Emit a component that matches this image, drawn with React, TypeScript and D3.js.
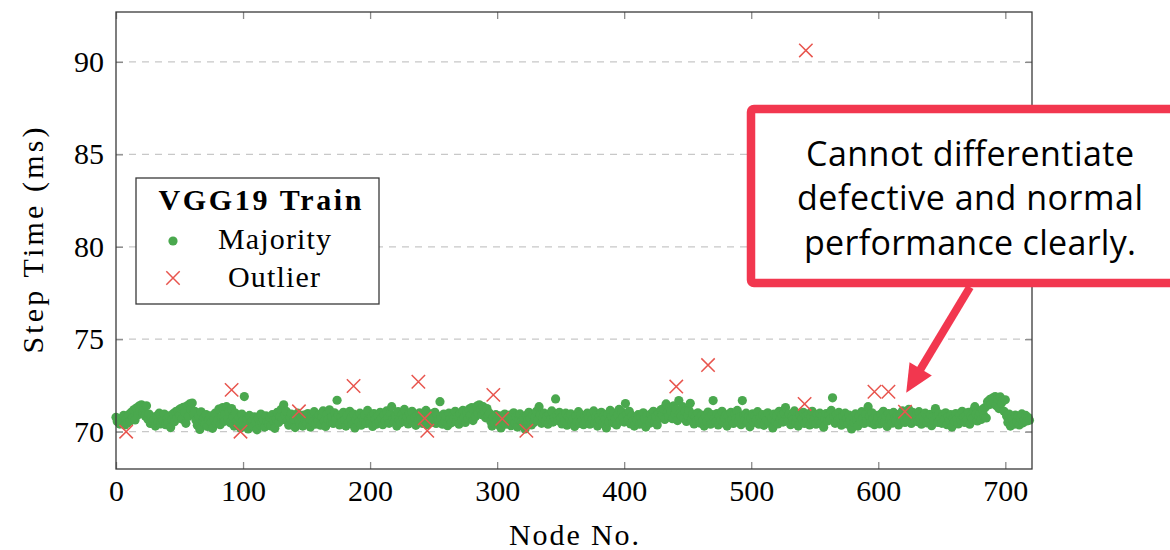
import React, { useEffect, useRef } from 'react';
import * as d3 from 'd3';

// step times (ms) of the majority nodes, 90 nodes per block
const blockA = [
  70.78, 70.55, 70.62, 70.41, 70.70, 70.52, 70.88, 70.36, 70.65, 70.47,
  70.92, 70.58, 71.05, 70.74, 71.18, 70.63, 71.28, 70.90, 71.38, 71.12,
  71.45, 71.02, 71.30, 70.85, 71.40, 70.68, 70.95, 70.44, 70.80, 70.57,
  70.66, 70.30, 70.84, 70.51, 71.00, 70.42, 70.73, 70.60, 70.95, 70.38,
  70.70, 70.49, 70.86, 70.22, 70.64, 70.97, 70.53, 71.08, 70.75, 71.15,
  70.90, 71.25, 70.68, 71.32, 71.05, 70.45, 71.40, 70.82, 71.50, 71.20,
  71.55, 70.98, 71.10, 70.62, 70.35, 70.80, 70.12, 71.07, 70.55, 70.74,
  70.40, 70.92, 70.28, 70.66, 70.85, 70.51, 70.18, 70.70, 71.00, 70.46,
  70.62, 71.22, 70.38, 70.78, 71.30, 70.55, 70.95, 71.35, 70.70, 71.10,
];
const blockB = [
  70.48, 71.25, 70.82, 70.30, 71.00, 70.58, 70.40, 70.75, 70.20, 70.95,
  70.62, 71.90, 70.35, 70.70, 70.15, 70.88, 70.45, 70.60, 70.28, 70.80,
  70.52, 70.10, 70.72, 70.38, 70.95, 70.48, 70.65, 70.25, 70.85, 70.55,
  70.42, 70.78, 70.30, 70.92, 70.60, 70.18, 70.70, 71.05, 70.50, 70.82,
  71.20, 70.65, 71.45, 70.90, 71.10, 70.58, 70.35, 70.75, 70.95, 70.48,
  70.68, 70.22, 70.85, 71.00, 70.55, 70.40, 70.78, 70.30, 70.90, 70.62,
  70.45, 70.98, 70.70, 70.25, 70.86, 70.52, 71.08, 70.40, 70.74, 70.60,
  70.92, 70.35, 70.80, 71.12, 70.58, 70.28, 70.95, 70.66, 71.18, 70.50,
  70.82, 70.44, 71.02, 70.68, 71.70, 70.90, 70.36, 70.78, 70.55, 71.05,
];
const blockC = [
  70.62, 70.30, 70.88, 70.48, 71.10, 70.72, 70.40, 70.95, 70.20, 70.66,
  70.85, 70.52, 71.00, 70.35, 70.76, 70.60, 70.92, 70.44, 71.15, 70.70,
  70.50, 70.82, 70.28, 70.98, 70.64, 70.40, 70.86, 70.55, 71.05, 70.72,
  70.38, 70.90, 70.58, 71.12, 70.75, 70.45, 70.95, 71.35, 70.68, 70.52,
  70.85, 70.30, 71.08, 70.62, 70.48, 70.92, 70.70, 71.20, 70.56, 70.80,
  70.42, 70.98, 70.66, 71.10, 70.50, 70.78, 70.34, 70.88, 70.60, 71.02,
  70.72, 70.45, 70.90, 70.58, 71.15, 70.38, 70.80, 70.64, 70.96, 70.52,
  70.70, 71.05, 70.44, 70.86, 70.62, 71.62, 70.78, 70.40, 70.95, 70.56,
  70.82, 70.32, 71.00, 70.68, 70.48, 70.90, 70.74, 71.10, 70.54, 70.85,
];
const blockD = [
  70.40, 70.95, 70.62, 71.15, 70.78, 70.50, 71.05, 70.70, 71.22, 70.88,
  71.30, 70.60, 71.12, 70.82, 71.38, 70.98, 71.45, 71.20, 70.92, 71.35,
  71.08, 70.75, 71.25, 70.85, 71.00, 70.55, 70.30, 70.78, 70.45, 70.92,
  70.62, 70.38, 70.85, 70.20, 70.70, 70.52, 70.95, 70.40, 70.76, 70.58,
  70.90, 70.32, 70.68, 71.02, 70.48, 70.82, 70.25, 70.64, 70.96, 70.54,
  70.42, 70.78, 70.15, 70.88, 70.60, 71.05, 70.70, 70.36, 70.92, 70.50,
  70.80, 71.10, 70.62, 71.35, 70.90, 70.45, 70.72, 71.00, 70.56, 70.84,
  70.40, 70.95, 70.66, 71.12, 70.52, 70.78, 71.77, 70.88, 70.60, 71.05,
  70.74, 70.42, 70.90, 70.58, 71.00, 70.35, 70.80, 70.64, 70.96, 70.50,
];
const blockE = [
  70.70, 70.28, 70.86, 70.55, 71.08, 70.45, 70.92, 70.62, 70.38, 70.80,
  70.58, 71.00, 70.72, 70.40, 70.94, 70.66, 71.12, 70.50, 70.84, 70.30,
  70.76, 70.60, 71.05, 70.44, 70.88, 70.68, 70.20, 70.95, 70.54, 71.15,
  70.82, 70.48, 71.00, 70.70, 70.36, 70.90, 71.20, 70.62, 71.08, 70.78,
  70.52, 71.52, 70.95, 70.66, 71.10, 70.42, 70.85, 70.58, 70.30, 70.76,
  70.62, 70.92, 70.40, 70.80, 70.54, 71.02, 70.70, 70.25, 70.88, 70.60,
  70.45, 70.96, 70.68, 71.10, 70.50, 70.84, 70.36, 71.00, 70.74, 71.18,
  70.90, 71.25, 70.66, 71.50, 71.05, 70.80, 71.30, 71.12, 70.70, 71.40,
  70.95, 71.20, 70.60, 71.68, 71.00, 70.85, 71.35, 70.72, 71.10, 70.55,
];
const blockF = [
  70.88, 71.15, 71.53, 70.64, 70.95, 70.42, 70.80, 70.58, 71.02, 70.70,
  70.46, 70.90, 70.62, 70.30, 70.84, 70.55, 71.06, 70.76, 70.40, 70.92,
  71.68, 70.68, 70.52, 70.98, 70.36, 70.82, 70.60, 71.10, 70.48, 70.74,
  70.92, 70.30, 70.86, 70.58, 71.04, 70.66, 70.44, 70.95, 70.70, 71.15,
  70.55, 70.80, 70.38, 71.68, 70.90, 70.62, 71.00, 70.48, 70.84, 70.26,
  70.72, 70.96, 70.50, 70.85, 70.64, 71.08, 70.40, 70.78, 70.58, 70.92,
  70.34, 70.80, 70.62, 71.02, 70.46, 70.88, 70.70, 70.20, 70.95, 70.56,
  70.84, 70.42, 71.10, 70.66, 70.90, 70.52, 71.00, 71.30, 70.74, 70.60,
  70.95, 70.38, 70.82, 70.64, 71.12, 70.48, 70.78, 70.30, 70.92, 70.56,
];
const blockG = [
  70.70, 71.05, 70.44, 70.86, 70.60, 70.96, 70.36, 70.80, 71.10, 70.52,
  70.74, 70.40, 70.92, 70.62, 71.00, 70.48, 70.84, 70.24, 70.70, 70.98,
  70.58, 70.90, 70.66, 71.15, 71.83, 70.80, 70.45, 70.94, 70.60, 71.05,
  70.72, 70.35, 70.86, 70.55, 71.00, 70.68, 70.40, 70.90, 70.62, 70.15,
  70.80, 70.50, 70.96, 70.64, 70.30, 70.85, 70.58, 71.08, 70.72, 70.44,
  70.92, 70.60, 71.35, 70.82, 70.48, 71.02, 70.70, 70.38, 70.88, 70.56,
  70.76, 70.42, 70.95, 70.64, 71.10, 70.52, 70.84, 70.28, 70.98, 70.66,
  70.80, 70.46, 71.04, 70.72, 70.58, 70.92, 70.36, 70.86, 70.62, 71.12,
  70.74, 70.50, 70.96, 70.68, 71.20, 70.88, 70.44, 71.05, 70.78, 70.60,
];
const blockH = [
  70.90, 70.54, 71.08, 70.70, 70.40, 70.85, 70.62, 71.00, 70.48, 70.82,
  70.66, 70.94, 70.32, 70.78, 70.58, 71.25, 70.86, 70.50, 70.96, 70.72,
  70.45, 70.88, 70.64, 71.02, 70.38, 70.80, 70.60, 70.92, 70.25, 70.74,
  70.56, 70.98, 70.68, 70.42, 70.86, 70.62, 71.10, 70.76, 70.50, 70.90,
  70.64, 71.05, 70.40, 70.84, 70.70, 71.15, 71.35, 70.96, 70.58, 70.82,
  71.00, 70.66, 71.20, 70.88, 71.30, 70.74, 71.62, 71.45, 71.75, 71.50,
  71.82, 71.60, 71.90, 71.40, 71.78, 71.25, 71.88, 71.55, 71.70, 71.10,
  71.72, 70.85, 70.50, 70.95, 70.30, 70.78, 70.62, 70.40, 70.90, 70.55,
  70.82, 70.36, 70.70, 70.96, 70.48, 70.64, 70.88, 70.58, 70.76, 70.62,
];
const majority = [...blockA, ...blockB, ...blockC, ...blockD, ...blockE, ...blockF, ...blockG, ...blockH];

// outlier nodes and their step times
const outlierNodes = [8, 91, 98, 144, 187, 238, 243, 245, 297, 304, 323, 441, 466, 542, 543, 597, 608, 621];
const outlierTimes = [70.0, 72.26, 70.0, 71.1, 72.47, 72.7, 70.72, 70.05, 71.99, 70.7, 70.05, 72.44, 73.6, 71.5, 90.62, 72.16, 72.16, 71.08];

const xTicks = [0, 100, 200, 300, 400, 500, 600, 700];
const yTicks = [70, 75, 80, 85, 90];

const noteLines = ['Cannot differentiate', 'defective and normal', 'performance clearly.'];
const noteWidths = [328, 346, 332];
const noteTarget = [622, 72.1]; // where the arrow points

const GREEN = '#4aa84e';
const RED = '#e8554e';
const NOTE_RED = '#f2374f';
const SERIF = '"Liberation Serif", "Times New Roman", serif';

const App = () => {
  const ref = useRef(null);

  useEffect(() => {
    document.body.style.margin = '0';
    const svg = d3.select(ref.current);
    svg.selectAll('*').remove();

    const left = 116, right = 1032, top = 12, bottom = 469;

    const x = d3.scaleLinear().domain([0, 721]).range([left, right]);
    const y = d3.scaleLinear().domain([67.98, 92.7]).range([bottom, top]);

    // dashed horizontal grid
    svg.append('g')
      .selectAll('line')
      .data(yTicks)
      .join('line')
        .attr('x1', left).attr('x2', right)
        .attr('y1', d => y(d)).attr('y2', d => y(d))
        .attr('stroke', '#c8c8c8')
        .attr('stroke-width', 1.2)
        .attr('stroke-dasharray', '7,6');

    // majority dots
    svg.append('g')
      .selectAll('circle')
      .data(majority)
      .join('circle')
        .attr('cx', (d, i) => x(i))
        .attr('cy', d => y(d))
        .attr('r', 4.6)
        .attr('fill', GREEN);

    // outlier crosses
    const s = 6.7;
    const outliers = outlierNodes.map((n, i) => [n, outlierTimes[i]]);
    svg.append('g')
      .selectAll('path')
      .data(outliers)
      .join('path')
        .attr('d', d => {
          const cx = x(d[0]), cy = y(d[1]);
          return `M${cx - s},${cy - s}L${cx + s},${cy + s}M${cx - s},${cy + s}L${cx + s},${cy - s}`;
        })
        .attr('stroke', RED)
        .attr('stroke-width', 1.5)
        .attr('fill', 'none');

    // axes (ticks inside, on all four sides)
    const styleAxis = g => {
      g.select('.domain').remove();
      g.selectAll('.tick line').attr('stroke', '#8a8a8a').attr('stroke-width', 1.3);
      g.selectAll('.tick text')
        .attr('fill', '#000')
        .style('font-family', SERIF)
        .style('font-size', '30px');
    };

    svg.append('g')
      .attr('transform', `translate(0,${bottom})`)
      .call(d3.axisBottom(x).tickValues(xTicks).tickSizeInner(-7).tickSizeOuter(0).tickPadding(11))
      .call(styleAxis);
    svg.append('g')
      .attr('transform', `translate(0,${top})`)
      .call(d3.axisTop(x).tickValues(xTicks).tickSizeInner(-7).tickSizeOuter(0).tickFormat(() => ''))
      .call(styleAxis);
    svg.append('g')
      .attr('transform', `translate(${left},0)`)
      .call(d3.axisLeft(y).tickValues(yTicks).tickSizeInner(-7).tickSizeOuter(0).tickPadding(12))
      .call(styleAxis);
    svg.append('g')
      .attr('transform', `translate(${right},0)`)
      .call(d3.axisRight(y).tickValues(yTicks).tickSizeInner(-7).tickSizeOuter(0).tickFormat(() => ''))
      .call(styleAxis);

    // frame
    svg.append('rect')
      .attr('x', left).attr('y', top)
      .attr('width', right - left).attr('height', bottom - top)
      .attr('fill', 'none')
      .attr('stroke', '#3a3a3a')
      .attr('stroke-width', 1.3);

    // axis titles
    svg.append('text')
      .attr('x', (left + right) / 2)
      .attr('y', 545)
      .attr('text-anchor', 'middle')
      .attr('textLength', 130)
      .style('font-family', SERIF)
      .style('font-size', '30px')
      .text('Node No.');

    svg.append('text')
      .attr('transform', `translate(43,${(top + bottom) / 2}) rotate(-90)`)
      .attr('text-anchor', 'middle')
      .attr('textLength', 226)
      .style('font-family', SERIF)
      .style('font-size', '30px')
      .text('Step Time (ms)');

    // legend
    const legend = svg.append('g');
    legend.append('rect')
      .attr('x', 136).attr('y', 178)
      .attr('width', 243).attr('height', 126)
      .attr('fill', '#fff')
      .attr('stroke', '#3a3a3a')
      .attr('stroke-width', 1.3);
    legend.append('text')
      .attr('x', 260).attr('y', 210)
      .attr('text-anchor', 'middle')
      .attr('textLength', 203)
      .style('font-family', SERIF)
      .style('font-size', '30px')
      .style('font-weight', 'bold')
      .text('VGG19 Train');
    legend.append('circle')
      .attr('cx', 173).attr('cy', 241)
      .attr('r', 4.6)
      .attr('fill', GREEN);
    legend.append('path')
      .attr('d', `M${173 - s},${278 - s}L${173 + s},${278 + s}M${173 - s},${278 + s}L${173 + s},${278 - s}`)
      .attr('stroke', RED)
      .attr('stroke-width', 1.5);
    legend.append('text')
      .attr('x', 274.5).attr('y', 249)
      .attr('text-anchor', 'middle')
      .attr('textLength', 113)
      .style('font-family', SERIF)
      .style('font-size', '30px')
      .text('Majority');
    legend.append('text')
      .attr('x', 274).attr('y', 287)
      .attr('text-anchor', 'middle')
      .attr('textLength', 92)
      .style('font-family', SERIF)
      .style('font-size', '30px')
      .text('Outlier');

    // callout box
    const note = svg.append('g');
    note.append('rect')
      .attr('x', 751).attr('y', 109)
      .attr('width', 440).attr('height', 174)
      .attr('rx', 3)
      .attr('fill', '#fff')
      .attr('stroke', NOTE_RED)
      .attr('stroke-width', 8.5);
    note.selectAll('text')
      .data(noteLines)
      .join('text')
        .attr('x', 970)
        .attr('y', (d, i) => 166 + i * 44.3)
        .attr('text-anchor', 'middle')
        .attr('textLength', (d, i) => noteWidths[i])
        .style('font-family', '"Open Sans", "Noto Sans", sans-serif')
        .style('font-size', '34px')
        .attr('fill', '#000')
        .text(d => d);

    // arrow from the box to the data
    const start = [970, 287];
    const tip = [x(noteTarget[0]), y(noteTarget[1])];
    const dx = tip[0] - start[0], dy = tip[1] - start[1];
    const len = Math.hypot(dx, dy);
    const ux = dx / len, uy = dy / len;
    const headLen = 28, headHalf = 13;
    const base = [tip[0] - headLen * ux, tip[1] - headLen * uy];
    note.append('line')
      .attr('x1', start[0]).attr('y1', start[1])
      .attr('x2', base[0] + 2 * ux).attr('y2', base[1] + 2 * uy)
      .attr('stroke', NOTE_RED)
      .attr('stroke-width', 8);
    note.append('path')
      .attr('d', `M${tip[0]},${tip[1]}L${base[0] - headHalf * uy},${base[1] + headHalf * ux}L${base[0] + headHalf * uy},${base[1] - headHalf * ux}Z`)
      .attr('fill', NOTE_RED);
  }, []);

  return (
    <svg ref={ref} width={1170} height={550} style={{ display: 'block' }}></svg>
  );
};

export default App;
